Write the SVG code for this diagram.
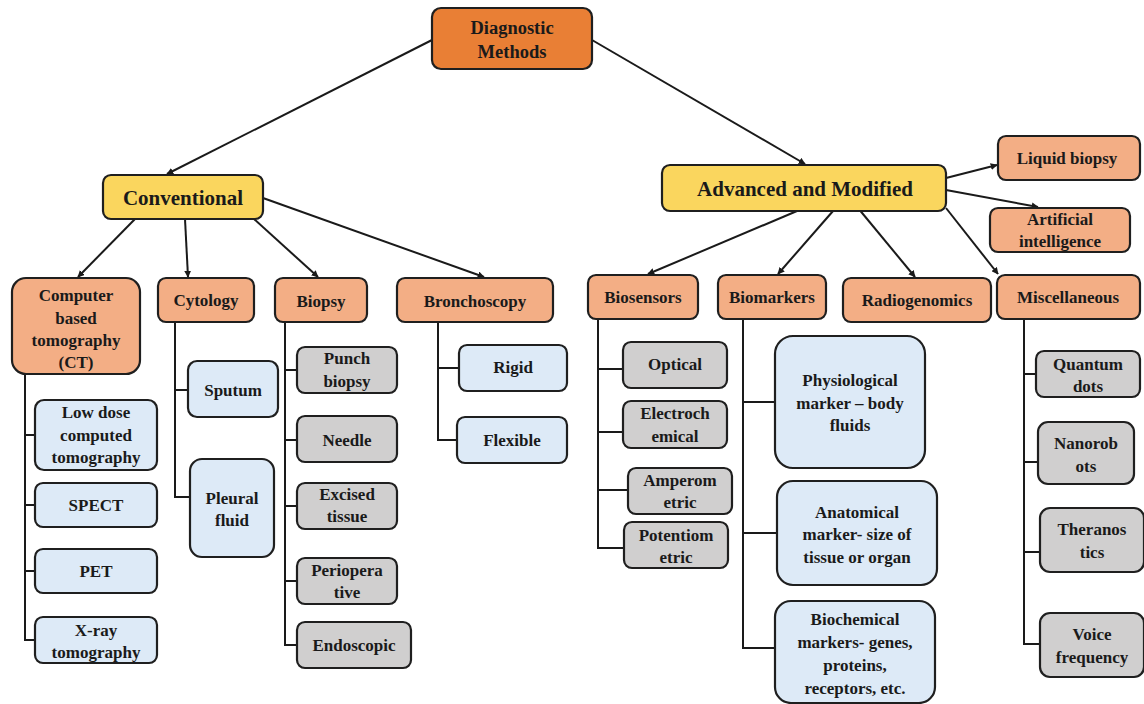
<svg xmlns="http://www.w3.org/2000/svg" width="1144" height="704" viewBox="0 0 1144 704">
<defs>
  <marker id="ah" viewBox="0 0 10 10" refX="9" refY="5" markerWidth="7" markerHeight="7" orient="auto" markerUnits="userSpaceOnUse">
    <path d="M0,0 L10,5 L0,10 z" fill="#1a1a1a"/>
  </marker>
  <style>
    rect { stroke: #1f1f1f; stroke-width: 2.2; }
    .root { fill: #E97F35; }
    .main { fill: #FAD65E; }
    .cat { fill: #F3AE85; }
    .blue { fill: #DDEAF7; }
    .gray { fill: #D0CFCF; }
    text { font-family: "Liberation Serif", "Times New Roman", serif; font-weight: bold; font-size: 17px; fill: #1a1a1a; text-anchor: middle; dominant-baseline: central; }
    .big { font-size: 21px; }
    .mid { font-size: 18.5px; }
    .arrow { stroke: #1a1a1a; stroke-width: 2; fill: none; marker-end: url(#ah); }
    .tree { stroke: #1a1a1a; stroke-width: 2; fill: none; }
  </style>
</defs>
<rect x="0" y="0" width="1144" height="704" fill="#ffffff" style="stroke:none"/>

<g id="connectors">
  <!-- top level arrows -->
  <line class="arrow" x1="432" y1="40" x2="167" y2="174"/>
  <line class="arrow" x1="592" y1="40" x2="805" y2="164"/>
  <!-- conventional branches -->
  <line class="arrow" x1="135" y1="219" x2="78" y2="277"/>
  <line class="arrow" x1="185" y1="219" x2="188" y2="277"/>
  <line class="arrow" x1="254" y1="219" x2="318" y2="277"/>
  <line class="arrow" x1="263" y1="198" x2="484" y2="277"/>
  <!-- advanced branches -->
  <line class="arrow" x1="946" y1="178" x2="997" y2="165"/>
  <line class="arrow" x1="946" y1="190" x2="1038" y2="207"/>
  <line class="arrow" x1="797" y1="211" x2="648" y2="274"/>
  <line class="arrow" x1="833" y1="211" x2="778" y2="274"/>
  <line class="arrow" x1="858" y1="208" x2="915" y2="277"/>
  <line class="arrow" x1="946" y1="208" x2="998" y2="274"/>
  <!-- CT list -->
  <path class="tree" d="M25,374 V640 H35 M25,435 H35 M25,505 H35 M25,571 H35"/>
  <!-- cytology list -->
  <path class="tree" d="M175,322 V497 H190 M175,390 H188"/>
  <!-- biopsy list -->
  <path class="tree" d="M285,322 V645 H297 M285,370 H297 M285,440 H297 M285,506 H297 M285,581 H297"/>
  <!-- bronchoscopy list -->
  <path class="tree" d="M438,322 V440 H457 M438,368 H459"/>
  <!-- biosensors list -->
  <path class="tree" d="M598,319 V548 H624 M598,369 H623 M598,432 H623 M598,490 H628"/>
  <!-- biomarkers list -->
  <path class="tree" d="M743,319 V648 H775 M743,402 H775 M743,533 H777"/>
  <!-- miscellaneous list -->
  <path class="tree" d="M1024,319 V644 H1040 M1024,374 H1036 M1024,462 H1038 M1024,552 H1040"/>
</g>

<g id="diagnostic-methods">
  <rect class="root" x="432" y="8" width="160" height="61" rx="9"/>
  <text class="mid" x="512" y="28">Diagnostic</text>
  <text class="mid" x="512" y="52">Methods</text>
</g>

<g id="conventional">
  <rect class="main" x="103" y="175" width="160" height="44" rx="8"/>
  <text class="big" x="183" y="198">Conventional</text>
</g>

<g id="advanced-modified">
  <rect class="main" x="662" y="165" width="284" height="46" rx="8"/>
  <text class="big" x="805" y="189">Advanced and Modified</text>
</g>

<g id="liquid-biopsy">
  <rect class="cat" x="998" y="136" width="142" height="44" rx="8"/>
  <text x="1067" y="158">Liquid biopsy</text>
</g>

<g id="artificial-intelligence">
  <rect class="cat" x="990" y="208" width="140" height="44" rx="8"/>
  <text x="1060" y="219">Artificial</text>
  <text x="1060" y="241">intelligence</text>
</g>

<!-- conventional categories -->
<g id="ct">
  <rect class="cat" x="12" y="278" width="128" height="96" rx="14"/>
  <text x="76" y="295">Computer</text>
  <text x="76" y="318">based</text>
  <text x="76" y="340">tomography</text>
  <text x="76" y="362">(CT)</text>
</g>
<g id="cytology">
  <rect class="cat" x="158" y="278" width="96" height="44" rx="8"/>
  <text x="206" y="300">Cytology</text>
</g>
<g id="biopsy">
  <rect class="cat" x="275" y="278" width="92" height="44" rx="8"/>
  <text x="321" y="301">Biopsy</text>
</g>
<g id="bronchoscopy">
  <rect class="cat" x="397" y="278" width="156" height="44" rx="8"/>
  <text x="475" y="301">Bronchoscopy</text>
</g>

<!-- advanced categories -->
<g id="biosensors">
  <rect class="cat" x="588" y="275" width="110" height="44" rx="8"/>
  <text x="643" y="297">Biosensors</text>
</g>
<g id="biomarkers">
  <rect class="cat" x="718" y="275" width="108" height="44" rx="8"/>
  <text x="772" y="297">Biomarkers</text>
</g>
<g id="radiogenomics">
  <rect class="cat" x="843" y="278" width="148" height="44" rx="8"/>
  <text x="917" y="300">Radiogenomics</text>
</g>
<g id="miscellaneous">
  <rect class="cat" x="997" y="275" width="143" height="44" rx="8"/>
  <text x="1068" y="297">Miscellaneous</text>
</g>

<!-- CT items -->
<g id="low-dose-ct">
  <rect class="blue" x="35" y="400" width="122" height="70" rx="9"/>
  <text x="96" y="412">Low dose</text>
  <text x="96" y="435">computed</text>
  <text x="96" y="457">tomography</text>
</g>
<g id="spect">
  <rect class="blue" x="35" y="483" width="122" height="44" rx="8"/>
  <text x="96" y="505">SPECT</text>
</g>
<g id="pet">
  <rect class="blue" x="35" y="549" width="122" height="44" rx="8"/>
  <text x="96" y="571">PET</text>
</g>
<g id="xray-tomography">
  <rect class="blue" x="35" y="617" width="122" height="46" rx="8"/>
  <text x="96" y="630">X-ray</text>
  <text x="96" y="652">tomography</text>
</g>

<!-- cytology items -->
<g id="sputum">
  <rect class="blue" x="188" y="361" width="90" height="56" rx="9"/>
  <text x="233" y="390">Sputum</text>
</g>
<g id="pleural-fluid">
  <rect class="blue" x="190" y="459" width="84" height="98" rx="12"/>
  <text x="232" y="498">Pleural</text>
  <text x="232" y="520">fluid</text>
</g>

<!-- biopsy items -->
<g id="punch-biopsy">
  <rect class="gray" x="297" y="347" width="100" height="46" rx="8"/>
  <text x="347" y="358">Punch</text>
  <text x="347" y="381">biopsy</text>
</g>
<g id="needle">
  <rect class="gray" x="297" y="416" width="100" height="46" rx="8"/>
  <text x="347" y="440">Needle</text>
</g>
<g id="excised-tissue">
  <rect class="gray" x="297" y="483" width="100" height="46" rx="8"/>
  <text x="347" y="494">Excised</text>
  <text x="347" y="516">tissue</text>
</g>
<g id="perioperative">
  <rect class="gray" x="297" y="558" width="100" height="46" rx="8"/>
  <text x="347" y="570">Periopera</text>
  <text x="347" y="592">tive</text>
</g>
<g id="endoscopic">
  <rect class="gray" x="297" y="622" width="114" height="46" rx="8"/>
  <text x="354" y="645">Endoscopic</text>
</g>

<!-- bronchoscopy items -->
<g id="rigid">
  <rect class="blue" x="459" y="345" width="108" height="46" rx="8"/>
  <text x="513" y="367">Rigid</text>
</g>
<g id="flexible">
  <rect class="blue" x="457" y="417" width="110" height="46" rx="8"/>
  <text x="512" y="440">Flexible</text>
</g>

<!-- biosensor items -->
<g id="optical">
  <rect class="gray" x="623" y="342" width="104" height="46" rx="8"/>
  <text x="675" y="364">Optical</text>
</g>
<g id="electrochemical">
  <rect class="gray" x="623" y="401" width="104" height="47" rx="8"/>
  <text x="675" y="413">Electroch</text>
  <text x="675" y="436">emical</text>
</g>
<g id="amperometric">
  <rect class="gray" x="628" y="468" width="104" height="46" rx="8"/>
  <text x="680" y="480">Amperom</text>
  <text x="680" y="502">etric</text>
</g>
<g id="potentiometric">
  <rect class="gray" x="624" y="522" width="104" height="46" rx="8"/>
  <text x="676" y="535">Potentiom</text>
  <text x="676" y="557">etric</text>
</g>

<!-- biomarker items -->
<g id="physiological-marker">
  <rect class="blue" x="775" y="336" width="150" height="132" rx="18"/>
  <text x="850" y="380">Physiological</text>
  <text x="850" y="403">marker – body</text>
  <text x="850" y="425">fluids</text>
</g>
<g id="anatomical-marker">
  <rect class="blue" x="777" y="481" width="160" height="104" rx="16"/>
  <text x="857" y="512">Anatomical</text>
  <text x="857" y="534">marker- size of</text>
  <text x="857" y="557">tissue or organ</text>
</g>
<g id="biochemical-markers">
  <rect class="blue" x="775" y="601" width="160" height="102" rx="16"/>
  <text x="855" y="619">Biochemical</text>
  <text x="855" y="642">markers- genes,</text>
  <text x="855" y="665">proteins,</text>
  <text x="855" y="688">receptors, etc.</text>
</g>

<!-- miscellaneous items -->
<g id="quantum-dots">
  <rect class="gray" x="1036" y="351" width="104" height="46" rx="8"/>
  <text x="1088" y="364">Quantum</text>
  <text x="1088" y="386">dots</text>
</g>
<g id="nanorobots">
  <rect class="gray" x="1038" y="422" width="96" height="62" rx="10"/>
  <text x="1086" y="443">Nanorob</text>
  <text x="1086" y="466">ots</text>
</g>
<g id="theranostics">
  <rect class="gray" x="1040" y="508" width="104" height="64" rx="10"/>
  <text x="1092" y="529">Theranos</text>
  <text x="1092" y="552">tics</text>
</g>
<g id="voice-frequency">
  <rect class="gray" x="1040" y="613" width="104" height="64" rx="10"/>
  <text x="1092" y="634">Voice</text>
  <text x="1092" y="657">frequency</text>
</g>
</svg>
